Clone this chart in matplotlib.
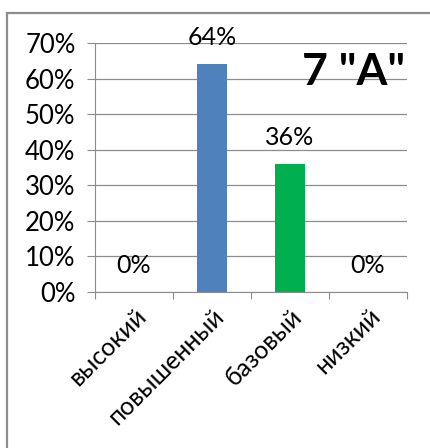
import matplotlib
matplotlib.use("Agg")
import matplotlib.pyplot as plt
from matplotlib.patches import Rectangle

categories = ["высокий", "повышенный", "базовый", "низкий"]
values = [0, 64, 36, 0]
bar_colors = ["#4F81BD", "#4F81BD", "#00B050", "#4F81BD"]
yticks = [0, 10, 20, 30, 40, 50, 60, 70]
title = '7 "A"'

plt.rcParams['font.family'] = ['Lato', 'DejaVu Sans']

fig = plt.figure(figsize=(4.31, 4.48), dpi=100)
fig.patches.append(Rectangle((7 / 431, -0.05), 1.1, 1 - 13 / 448 + 0.05,
                             transform=fig.transFigure, fill=False,
                             edgecolor="#8c8c8c", linewidth=1.6))

ax = fig.add_axes([95 / 431, 1 - 292 / 448, 312 / 431, 249 / 448])
x = list(range(len(categories)))
ax.bar(x, values, width=0.39, color=bar_colors, zorder=3)

ax.set_xlim(-0.5, len(categories) - 0.5)
ax.set_ylim(0, 70)
ax.set_yticks(yticks)
ax.set_yticklabels([f"{v}%" for v in yticks], fontsize=18.5)
ax.yaxis.grid(True, color="#8c8c8c", linewidth=0.9)
ax.set_axisbelow(True)

# category ticks sit between bars
ax.set_xticks([i - 0.5 for i in range(len(categories) + 1)])
ax.set_xticklabels([])
ax.set_xticks(x, minor=True)
ax.set_xticklabels(categories, minor=True, rotation=45, ha="right",
                   rotation_mode="anchor", fontsize=18)
ax.tick_params(axis="x", which="minor", length=0, pad=9)
ax.tick_params(axis="x", which="major", length=5, color="#8c8c8c")
ax.tick_params(axis="y", length=6, color="#8c8c8c", pad=8)

for s in ["top", "right"]:
    ax.spines[s].set_visible(False)
for s in ["left", "bottom"]:
    ax.spines[s].set_color("#8c8c8c")

for xi, v in zip(x, values):
    ax.annotate(f"{v}%", (xi, v), xytext=(0, 11), textcoords="offset points",
                ha="center", va="bottom", fontsize=18)

ax.text(0.995, 0.965, title, transform=ax.transAxes, ha="right", va="top",
        fontsize=32, fontweight="bold")

fig.savefig("out.png", dpi=100)
